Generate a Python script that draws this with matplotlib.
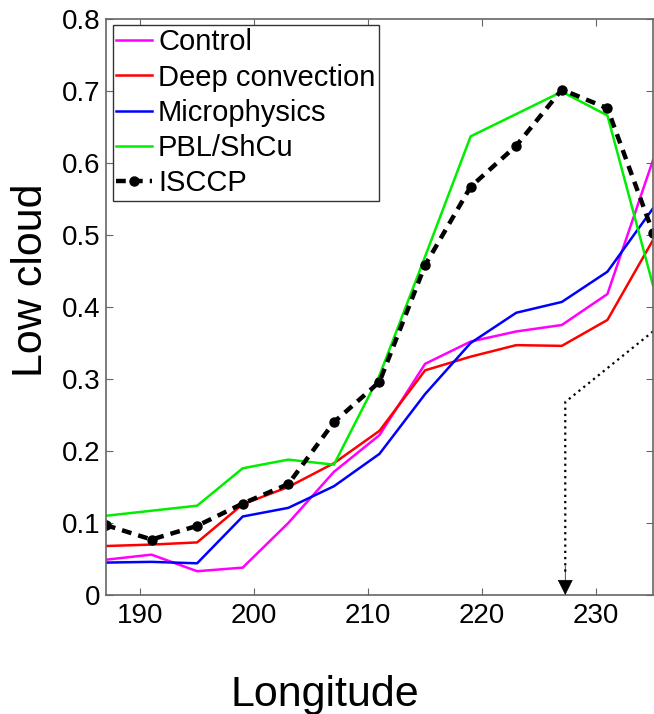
import numpy as np
import matplotlib
matplotlib.use('Agg')
import matplotlib.pyplot as plt

plt.rcParams['font.family'] = ['Liberation Sans', 'DejaVu Sans']

# --- Data ---
longitude = [187, 191, 195, 199, 203, 207, 211, 215, 219, 223, 227, 231, 235]

control = [0.049, 0.056, 0.033, 0.038, 0.100, 0.171, 0.222, 0.321, 0.352, 0.366, 0.375, 0.418, 0.604]
deep_conv = [0.068, 0.070, 0.073, 0.126, 0.150, 0.183, 0.228, 0.312, 0.331, 0.347, 0.346, 0.382, 0.493]
microphys = [0.045, 0.046, 0.044, 0.109, 0.121, 0.151, 0.196, 0.279, 0.350, 0.392, 0.407, 0.449, 0.537]
pbl_shcu = [0.110, 0.117, 0.124, 0.176, 0.188, 0.181, 0.305, 0.470, 0.637, 0.668, 0.699, 0.666, 0.430]
isccp = [0.097, 0.077, 0.096, 0.127, 0.154, 0.240, 0.296, 0.458, 0.567, 0.624, 0.702, 0.676, 0.503]

# dotted pointer: start, corner, tip
arrow_x = [235, 227.3, 227.3]
arrow_y = [0.366, 0.268, 0.0]

fig = plt.figure(figsize=(6.54, 7.14), dpi=100)
ax = fig.add_axes([0.162, 0.1667, 0.8365, 0.8067])

ax.plot(longitude, control, color='#ff00ff', lw=1.8, label='Control')
ax.plot(longitude, deep_conv, color='#ff0000', lw=1.8, label='Deep convection')
ax.plot(longitude, microphys, color='#0000ff', lw=1.8, label='Microphysics')
ax.plot(longitude, pbl_shcu, color='#00ee00', lw=1.8, label='PBL/ShCu')
ax.plot(longitude, isccp, color='black', lw=3.2, ls=(0, (2.2, 1.6)),
        marker='o', markersize=6.5, label='ISCCP')

# dotted arrow pointing down to the axis
ax.plot([arrow_x[0], arrow_x[1], arrow_x[2]], [arrow_y[0], arrow_y[1], 0.03],
        color='black', lw=1.6, ls=(0, (1, 1.8)))
ax.annotate('', xy=(arrow_x[2], arrow_y[2]), xytext=(arrow_x[2], 0.04),
            arrowprops=dict(arrowstyle='-|>', color='black', lw=0.5,
                            mutation_scale=25, shrinkA=0, shrinkB=0))

ax.set_xlim(187, 235)
ax.set_ylim(0, 0.8)
ax.set_xticks([190, 200, 210, 220, 230])
ax.set_yticks(np.arange(0, 0.81, 0.1))
ax.set_yticklabels(['0', '0.1', '0.2', '0.3', '0.4', '0.5', '0.6', '0.7', '0.8'])
ax.tick_params(direction='in', top=True, right=True, labelsize=20,
               length=5, color='#666666')
ax.tick_params(axis='x', pad=6)
ax.tick_params(axis='y', pad=4)
for sp in ax.spines.values():
    sp.set_color('#666666')
    sp.set_linewidth(1.2)

fig.text(325 / 654, 1 - 706 / 714, 'Longitude', fontsize=31,
         ha='center', va='baseline')
fig.text(11 / 654, 1 - 280 / 714, 'Low cloud', fontsize=31, rotation=90,
         ha='left', va='center')

leg = ax.legend(loc='upper left', bbox_to_anchor=(0.012, 0.99), borderaxespad=0,
                fontsize=21, handlelength=1.24, handletextpad=0.2,
                labelspacing=0.25, borderpad=0.12, fancybox=False, framealpha=1)
leg.get_frame().set_edgecolor('#333333')
leg.get_frame().set_linewidth(1.0)

fig.savefig('out.png', dpi=100)
